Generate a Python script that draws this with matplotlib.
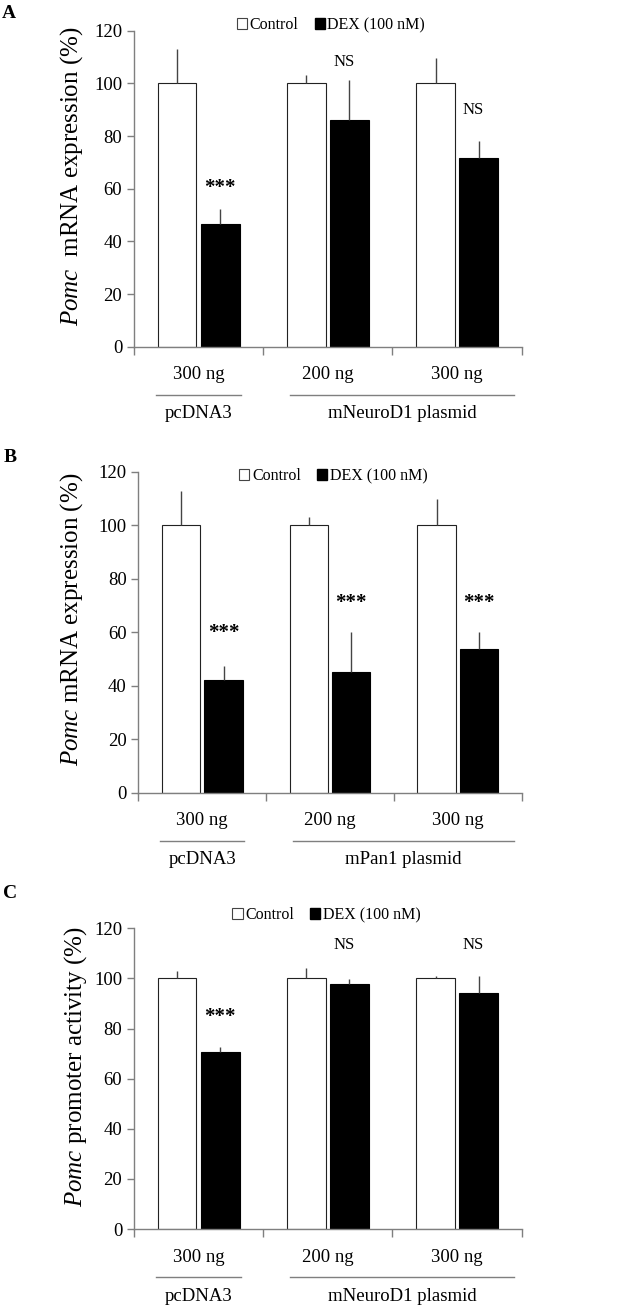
import numpy as np
import matplotlib
matplotlib.use("Agg")
import matplotlib.pyplot as plt
import matplotlib.transforms as mtransforms
from matplotlib.patches import Patch

plt.rcParams["font.family"] = "Liberation Serif"
plt.rcParams["mathtext.fontset"] = "custom"
plt.rcParams["mathtext.rm"] = "Liberation Serif"
plt.rcParams["mathtext.it"] = "Liberation Serif:italic"

# shared labels
doses = ["300 ng", "200 ng", "300 ng"]
legend_labels = ["Control", "DEX (100 nM)"]
yticks = [0, 20, 40, 60, 80, 100, 120]

# panel A
a_ctrl = [100, 100, 100]
a_ctrl_err = [12.9, 3.3, 9.5]
a_dex = [46.5, 86.1, 71.6]
a_dex_err = [5.8, 15.2, 6.5]
a_marks = ["***", "NS", "NS"]
a_mark_y = [60.4, 108.0, 89.9]
a_groups = ["pcDNA3", "mNeuroD1 plasmid"]

# panel B
b_ctrl = [100, 100, 100]
b_ctrl_err = [12.9, 2.9, 9.7]
b_dex = [42.1, 45.2, 53.6]
b_dex_err = [5.4, 14.7, 6.3]
b_marks = ["***", "***", "***"]
b_mark_y = [59.6, 70.8, 70.8]
b_groups = ["pcDNA3", "mPan1 plasmid"]

# panel C
c_ctrl = [100, 100, 100]
c_ctrl_err = [3.0, 4.3, 1.1]
c_dex = [70.8, 97.8, 94.3]
c_dex_err = [1.7, 1.8, 6.5]
c_marks = ["***", "NS", "NS"]
c_mark_y = [84.7, 113.3, 113.3]
c_groups = ["pcDNA3", "mNeuroD1 plasmid"]

grey = "#7f7f7f"
fig = plt.figure(figsize=(6.17, 13.10), dpi=100)


def draw_panel(rect, ctrl, ctrl_err, dex, dex_err, marks, mark_y, groups,
               ylabel, letter, letter_xy, legend_xy, ylabel_xy):
    ax = fig.add_axes(rect)
    x = np.arange(len(ctrl))
    w, gap = 0.30, 0.033
    xc = x - (w + gap) / 2
    xd = x + (w + gap) / 2
    ax.bar(xc, ctrl, w, color="white", edgecolor="#222222", linewidth=0.8, zorder=2)
    ax.bar(xd, dex, w, color="black", edgecolor="black", linewidth=0.8, zorder=2)
    zeros = np.zeros(len(ctrl))
    ax.errorbar(xc, ctrl, yerr=[zeros, ctrl_err], fmt="none", ecolor="#444444",
                elinewidth=1, capsize=0, zorder=3)
    ax.errorbar(xd, dex, yerr=[zeros, dex_err], fmt="none", ecolor="#444444",
                elinewidth=1, capsize=0, zorder=3)

    ax.set_xlim(-0.5, 2.5)
    ax.set_ylim(0, 120)
    ax.set_yticks(yticks)
    ax.tick_params(axis="y", labelsize=13.5, color=grey, length=5, width=1)
    ax.set_xticks([-0.5, 0.5, 1.5, 2.5])
    ax.set_xticklabels([])
    ax.tick_params(axis="x", color=grey, length=6, width=1)
    for s in ["top", "right"]:
        ax.spines[s].set_visible(False)
    for s in ["left", "bottom"]:
        ax.spines[s].set_color(grey)
        ax.spines[s].set_linewidth(1)

    for i, m in enumerate(marks):
        if m == "***":
            ax.text(xd[i], mark_y[i], m, ha="center", va="center",
                    fontsize=15, fontweight="bold")
        else:
            ax.text(xd[i] - 0.04, mark_y[i], m, ha="center", va="center", fontsize=12)

    base = ax.get_xaxis_transform()
    t_dose = mtransforms.offset_copy(base, fig=fig, y=-28, units="dots")
    t_line = mtransforms.offset_copy(base, fig=fig, y=-48, units="dots")
    t_group = mtransforms.offset_copy(base, fig=fig, y=-67, units="dots")
    for i, d in enumerate(doses):
        ax.text(x[i], 0, d, transform=t_dose, ha="center", va="center", fontsize=13.5)
    spans = [(-0.33, 0.33), (0.71, 2.44)]
    for (x0, x1), g in zip(spans, groups):
        ax.plot([x0, x1], [0, 0], transform=t_line, color=grey, lw=1, clip_on=False)
        ax.text((x0 + x1) / 2, 0, g, transform=t_group, ha="center", va="center",
                fontsize=13.5)

    handles = [Patch(facecolor="white", edgecolor="#444444", linewidth=0.8),
               Patch(facecolor="black", edgecolor="black")]
    ax.legend(handles, legend_labels, ncol=2, loc="center", frameon=False,
              bbox_to_anchor=legend_xy, bbox_transform=fig.transFigure,
              fontsize=11.5, handlelength=0.65, handleheight=0.65,
              handletextpad=0.15, columnspacing=1.0, borderpad=0)

    fig.text(ylabel_xy[0], ylabel_xy[1], ylabel, rotation=90, ha="center",
             va="center", fontsize=18)
    fig.text(letter_xy[0], letter_xy[1], letter, ha="center", va="center",
             fontsize=14, fontweight="bold")
    return ax


draw_panel([0.2172, 0.7353, 0.6283, 0.2413], a_ctrl, a_ctrl_err, a_dex, a_dex_err,
           a_marks, a_mark_y, a_groups, r"$\it{Pomc}$  mRNA expression (%)",
           "A", (0.0146, 0.990), (0.5365, 0.9809), (0.1167, 0.8656))
draw_panel([0.2242, 0.3949, 0.6214, 0.2450], b_ctrl, b_ctrl_err, b_dex, b_dex_err,
           b_marks, b_mark_y, b_groups, r"$\it{Pomc}$ mRNA expression (%)",
           "B", (0.016, 0.651), (0.540, 0.6366), (0.1167, 0.5275))
draw_panel([0.2172, 0.0618, 0.6283, 0.2296], c_ctrl, c_ctrl_err, c_dex, c_dex_err,
           c_marks, c_mark_y, c_groups, r"$\it{Pomc}$ promoter activity (%)",
           "C", (0.016, 0.318), (0.529, 0.3015), (0.123, 0.1855))

fig.savefig("out.png", dpi=100)
